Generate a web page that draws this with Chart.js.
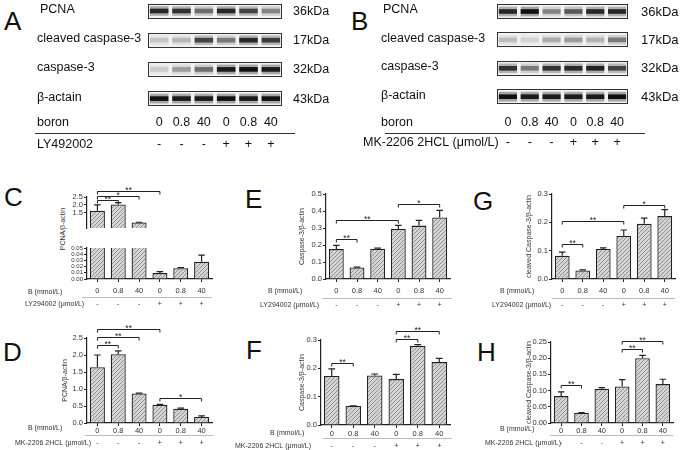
<!DOCTYPE html>
<html><head><meta charset="utf-8">
<script src="https://cdn.jsdelivr.net/npm/chart.js@4.4.1/dist/chart.umd.min.js"></script>
<style>
html,body{margin:0;padding:0;background:#fff}
body{width:685px;height:450px;position:relative;overflow:hidden;font-family:"Liberation Sans",Arial,sans-serif;color:#111}
canvas{position:absolute;left:0;top:0}
.t{position:absolute;white-space:nowrap;line-height:1}
.L{font-size:26px}
</style></head><body>
<div class="t L" style="left:4px;top:8px">A</div>
<div class="t L" style="left:351px;top:8px">B</div>
<div class="t L" style="left:4px;top:184px">C</div>
<div class="t L" style="left:3px;top:339px">D</div>
<div class="t L" style="left:245px;top:186px">E</div>
<div class="t L" style="left:246px;top:337px">F</div>
<div class="t L" style="left:473px;top:188px">G</div>
<div class="t L" style="left:477px;top:339px">H</div>
<div class="t" style="left:62px;top:229px;font-size:7px;color:#333;transform:translate(-50%,-50%) rotate(-90deg)">PCNA/β-actin</div>
<script>
// ---------- data ----------
const lanesBoron = ['0','0.8','40','0','0.8','40'];
const lanesInhibitor = ['-','-','-','+','+','+'];
const blotProteins = ['PCNA','cleaved caspase-3','caspase-3','β-actain'];
const blotWeights = ['36kDa','17kDa','32kDa','43kDa'];
// band intensities (0..1) per lane
const blotA_PCNA    = [0.85,0.8,0.5,0.85,0.7,0.4];
const blotA_cleaved = [0.15,0.2,0.7,0.45,0.85,0.75];
const blotA_casp    = [0.12,0.3,0.5,0.95,1.0,0.95];
const blotA_actin   = [1,0.95,0.95,1,0.95,1];
const blotB_PCNA    = [0.85,1.0,0.4,0.6,0.85,0.85];
const blotB_cleaved = [0.18,0.1,0.25,0.3,0.22,0.45];
const blotB_casp    = [0.8,0.45,0.8,0.85,0.9,0.7];
const blotB_actin   = [1,0.95,0.95,0.95,0.95,1];

const doseLabel = 'B (mmol/L)';
const pcnaLY      = [1.62,2.02,0.86,0.0095,0.0175,0.028];
const pcnaLYErr   = [0.37,0.12,0.01,0.0025,0.001,0.0105];
const casp3LY     = [0.176,0.068,0.178,0.294,0.314,0.362];
const casp3LYErr  = [0.022,0.002,0.004,0.021,0.031,0.042];
const cleavedLY   = [0.082,0.030,0.106,0.153,0.195,0.222];
const cleavedLYErr= [0.013,0.002,0.004,0.02,0.02,0.023];
const pcnaMK      = [1.64,2.02,0.87,0.54,0.42,0.18];
const pcnaMKErr   = [0.36,0.1,0.01,0.01,0.02,0.03];
const casp3MK     = [0.173,0.067,0.175,0.162,0.28,0.222];
const casp3MKErr  = [0.025,0.001,0.005,0.017,0.004,0.013];
const cleavedMK   = [0.083,0.031,0.106,0.113,0.2,0.12];
const cleavedMKErr= [0.013,0.001,0.003,0.021,0.009,0.015];
// significance brackets: [from, to, level, mark]
const sigC = [[0,1,2.32,'**'],[0,2,2.59,'*'],[0,3,2.86,'**']];
const sigD = [[0,1,2.29,'**'],[0,2,2.52,'**'],[0,3,2.76,'**'],[3,5,0.74,'*']];
const sigE = [[0,1,0.235,'**'],[0,3,0.345,'**'],[3,5,0.44,'*']];
const sigF = [[0,1,0.218,'**'],[3,4,0.302,'**'],[3,5,0.332,'**']];
const sigG = [[0,1,0.123,'**'],[0,3,0.206,'**'],[3,5,0.26,'*']];
const sigH = [[0,1,0.116,'**'],[3,4,0.227,'**'],[3,5,0.253,'**']];

// ---------- helpers ----------
const INK = '#222';
const FONT = '"Liberation Sans", Arial, sans-serif';

function fullCanvas(){
  const c = document.createElement('canvas');
  c.width = 685; c.height = 450;
  c.style.width = '685px'; c.style.height = '450px';
  document.body.appendChild(c);
  return c;
}
function makeHatch(){
  const c = document.createElement('canvas'); c.width = 4; c.height = 4;
  const g = c.getContext('2d');
  g.fillStyle = '#d4d4d4'; g.fillRect(0,0,4,4);
  g.strokeStyle = '#8a8a8a'; g.lineWidth = 0.9;
  g.beginPath();
  g.moveTo(0,4); g.lineTo(4,0);
  g.moveTo(-1,1); g.lineTo(1,-1);
  g.moveTo(3,5); g.lineTo(5,3);
  g.stroke();
  return g.createPattern(c,'repeat');
}
const hatch = makeHatch();

function blotPanel(p){
  const rows = p.rows;
  const datasets = [];
  [[9,0.35],[4,1]].forEach(([th,k])=>{
    lanesBoron.forEach((_,lane)=>{
      datasets.push({
        data: rows.map((r,i)=>({x:[lane+0.1, lane+0.9], y:i})),
        backgroundColor: rows.map(r=>`rgba(18,18,18,${(r[lane]*k).toFixed(3)})`),
        barThickness: th, grouped:false, borderWidth:0
      });
    });
  });
  const deco = {id:'blotdeco',
    beforeDatasetsDraw(chart){
      const {ctx, scales:{x,y}} = chart;
      ctx.save();
      rows.forEach((r,i)=>{
        const yc = y.getPixelForValue(i);
        const xl = x.getPixelForValue(0), xr = x.getPixelForValue(6);
        ctx.fillStyle = '#f1f1f1';
        ctx.fillRect(xl, yc-p.boxH/2, xr-xl, p.boxH);
        ctx.strokeStyle = '#333'; ctx.lineWidth = 1;
        ctx.strokeRect(Math.round(xl)+0.5, Math.round(yc-p.boxH/2)+0.5, Math.round(xr-xl)-1, p.boxH-1);
      });
      ctx.restore();
    },
    afterDraw(chart){
      const {ctx, scales:{x,y}} = chart;
      ctx.save();
      ctx.fillStyle = '#111'; ctx.textBaseline = 'middle'; ctx.textAlign = 'left';
      rows.forEach((r,i)=>{
        const yc = y.getPixelForValue(i);
        ctx.font = `12.5px ${FONT}`;
        ctx.fillText(blotProteins[i], p.labelX + (i===0 ? p.firstIndent : 0), yc - 1.5);
        ctx.font = `${p.kdaFont}px ${FONT}`;
        ctx.fillText(blotWeights[i], p.kdaX, yc + 0.5);
      });
      ctx.font = `12.5px ${FONT}`;
      ctx.fillText('boron', p.labelX, p.boronY);
      ctx.fillText(p.treat, p.treatX, p.treatY);
      ctx.textAlign = 'center';
      lanesBoron.forEach((v,i)=>{
        const cx = x.getPixelForValue(i+0.5);
        ctx.fillText(v, cx, p.boronY);
        ctx.fillText(lanesInhibitor[i], cx, p.treatY);
      });
      ctx.strokeStyle = '#333'; ctx.lineWidth = 1;
      ctx.beginPath(); ctx.moveTo(p.lineX0, p.lineY+0.5); ctx.lineTo(p.lineX1, p.lineY+0.5); ctx.stroke();
      ctx.restore();
    }
  };
  return new Chart(fullCanvas(), {
    type:'bar',
    data:{datasets},
    options:{
      indexAxis:'y', responsive:false, animation:false, events:[],
      layout:{padding:{left:p.x0, right:685-p.x1, top:0, bottom:450-112}},
      plugins:{legend:{display:false}, tooltip:{enabled:false}},
      scales:{
        x:{type:'linear', min:0, max:6, display:false, offset:false},
        y:{type:'linear', min:p.ymin, max:p.ymax, reverse:true, display:false, offset:false, grid:{offset:false}}
      }
    },
    plugins:[deco]
  });
}

function barPanel(p){
  const W = p.title ? p.x0 - p.titleX + 4.2 : 22;
  const H = 14;
  const deco = {id:'bardeco',
    afterDatasetsDraw(chart){
      const {ctx, scales:{y}} = chart;
      const meta = chart.getDatasetMeta(0);
      ctx.save(); ctx.strokeStyle = INK; ctx.lineWidth = 1.2;
      p.values.forEach((v,i)=>{
        const e = p.errs[i];
        if(!e || v > y.max || v < y.min) return;
        const bar = meta.data[i];
        const ya = y.getPixelForValue(v), yb = y.getPixelForValue(v+e);
        const hw = bar.width*0.22;
        ctx.beginPath();
        ctx.moveTo(bar.x, ya); ctx.lineTo(bar.x, yb);
        ctx.moveTo(bar.x-hw, yb); ctx.lineTo(bar.x+hw, yb);
        ctx.stroke();
      });
      ctx.restore();
    },
    afterDraw(chart){
      const {ctx, scales:{x,y}} = chart;
      ctx.save();
      ctx.strokeStyle = INK; ctx.fillStyle = INK; ctx.lineWidth = 1;
      ctx.font = `8.5px ${FONT}`; ctx.textAlign = 'center'; ctx.textBaseline = 'alphabetic';
      (p.sig||[]).forEach(([a,b,v,m])=>{
        const xa = x.getPixelForValue(a), xb = x.getPixelForValue(b);
        const yy = Math.round(y.getPixelForValue(v))+0.5;
        ctx.beginPath();
        ctx.moveTo(xa, yy+3); ctx.lineTo(xa, yy); ctx.lineTo(xb, yy); ctx.lineTo(xb, yy+3);
        ctx.stroke();
        ctx.fillText(m, (xa+xb)/2, yy+1.5);
      });
      if(p.rows){
        const r = p.rows;
        ctx.font = `7px ${FONT}`; ctx.fillStyle = '#333';
        ctx.textBaseline = 'middle'; ctx.textAlign = 'left';
        ctx.fillText(doseLabel, r.labelX, r.labelY);
        ctx.fillText(r.treat, r.treatX, r.treatY);
        ctx.textAlign = 'center';
        lanesInhibitor.forEach((s,i)=>ctx.fillText(s, x.getPixelForValue(i), r.treatY));
        ctx.strokeStyle = '#bbb'; ctx.lineWidth = 1;
        ctx.beginPath(); ctx.moveTo(r.lineX0, r.lineY+0.5); ctx.lineTo(r.lineX1, r.lineY+0.5); ctx.stroke();
      }
      ctx.restore();
    }
  };
  const yScale = {
    min:p.min, max:p.max,
    grid:{display:true, drawOnChartArea:false, tickLength:3, color:INK},
    border:{display:true, color:INK, width:1.2},
    ticks:{stepSize:p.step, autoSkip:false, font:{size:p.tickFont||7.5, family:FONT}, color:'#333', padding:1,
           callback:(v)=>Number(v).toFixed(p.dec)},
    title:{display:!!p.title, text:p.title||'', font:{size:7,family:FONT}, color:'#333', padding:0},
    afterFit(s){ s.width = W; }
  };
  if(p.tickVals) yScale.afterBuildTicks = (s)=>{ s.ticks = p.tickVals.map(v=>({value:v})); };
  return new Chart(fullCanvas(), {
    type:'bar',
    data:{labels: lanesBoron, datasets:[{data:p.values, backgroundColor:hatch, borderColor:INK, borderWidth:1.3,
          categoryPercentage:0.72, barPercentage:1}]},
    options:{
      responsive:false, animation:false, events:[],
      layout:{padding:{left:p.x0-W, right:685-p.x1, top:p.yTop, bottom:450-p.yBot-(p.showX?H:0)}},
      plugins:{legend:{display:false}, tooltip:{enabled:false}},
      scales:{
        x:{display:!!p.showX, offset:true,
           grid:{display:true, offset:false, drawOnChartArea:false, tickLength:3, color:INK, lineWidth:1},
           border:{display:true, color:INK, width:1.2},
           ticks:{font:{size:7.5,family:FONT}, color:'#333', padding:p.xPad||0, maxRotation:0, autoSkip:false},
           afterFit(s){ s.height = H; }},
        y: yScale
      }
    },
    plugins:[deco]
  });
}

// ---------- blots ----------
blotPanel({rows:[blotA_PCNA,blotA_cleaved,blotA_casp,blotA_actin], labelX:37, firstIndent:3, x0:148, x1:282, ymin:-0.377, ymax:3.459, boxH:15,
  kdaX:293, kdaFont:12.5, boronY:123, treat:'LY492002', treatX:37, treatY:145, lineX0:35, lineX1:295, lineY:133});
blotPanel({rows:[blotB_PCNA,blotB_cleaved,blotB_casp,blotB_actin], labelX:381, firstIndent:2, x0:497, x1:628, ymin:-0.405, ymax:3.539, boxH:15,
  kdaX:641, kdaFont:13, boronY:123, treat:'MK-2206 2HCL (μmol/L)', treatX:363, treatY:143, lineX0:385, lineX1:645, lineY:133});

// ---------- bar charts ----------
const rowsLY = (labelX,labelY,lineY,lineX0,lineX1,treatX,treatY)=>({labelX,labelY,lineY,lineX0,lineX1,treat:'LY294002 (μmol/L)',treatX,treatY});
const rowsMK = (labelX,labelY,lineY,lineX0,lineX1,treatX,treatY)=>({labelX,labelY,lineY,lineX0,lineX1,treat:'MK-2206 2HCL (μmol/L)',treatX,treatY});

// C (broken axis: upper + lower segments)
barPanel({x0:87,x1:212,yTop:197,yBot:242,min:0.5,max:2.5,tickVals:[1.5,2.0,2.5],dec:1,values:pcnaLY,errs:pcnaLYErr,sig:sigC,showX:false});
barPanel({x0:87,x1:212,yTop:248,yBot:279,min:0,max:0.05,step:0.01,dec:2,tickFont:6,values:pcnaLY,errs:pcnaLYErr,showX:true,xPad:4,
  rows:rowsLY(28,292,297,82,212,25,304)});
// D
barPanel({x0:87,x1:212,yTop:338,yBot:423,min:0,max:2.5,step:0.5,dec:1,values:pcnaMK,errs:pcnaMKErr,sig:sigD,
  title:'PCNA/β-actin',titleX:65,showX:true,xPad:0,rows:rowsMK(28,428,435,85,213,15,443)});
// E
barPanel({x0:326,x1:450,yTop:194,yBot:279,min:0,max:0.5,step:0.1,dec:1,values:casp3LY,errs:casp3LYErr,sig:sigE,
  title:'Caspase-3/β-actin',titleX:302,showX:true,xPad:4,rows:rowsLY(268,291,298,322,452,260,305)});
// F
barPanel({x0:321,x1:450,yTop:340,yBot:425,min:0,max:0.3,step:0.1,dec:1,values:casp3MK,errs:casp3MKErr,sig:sigF,
  title:'Caspase-3/β-actin',titleX:302,showX:true,xPad:1,rows:rowsMK(270,433,438,323,452,235,446)});
// G
barPanel({x0:552,x1:675,yTop:194,yBot:279,min:0,max:0.3,step:0.1,dec:1,values:cleavedLY,errs:cleavedLYErr,sig:sigG,
  title:'cleaved Caspase-3/β-actin',titleX:529,showX:true,xPad:4,rows:rowsLY(500,291,298,552,675,492,305)});
// H
barPanel({x0:551,x1:673,yTop:342,yBot:423,min:0,max:0.25,step:0.05,dec:2,values:cleavedMK,errs:cleavedMKErr,sig:sigH,
  title:'cleaved Caspase-3/β-actin',titleX:529,showX:true,xPad:0,rows:rowsMK(500,429,435,550,673,485,443)});
</script>
</body></html>
